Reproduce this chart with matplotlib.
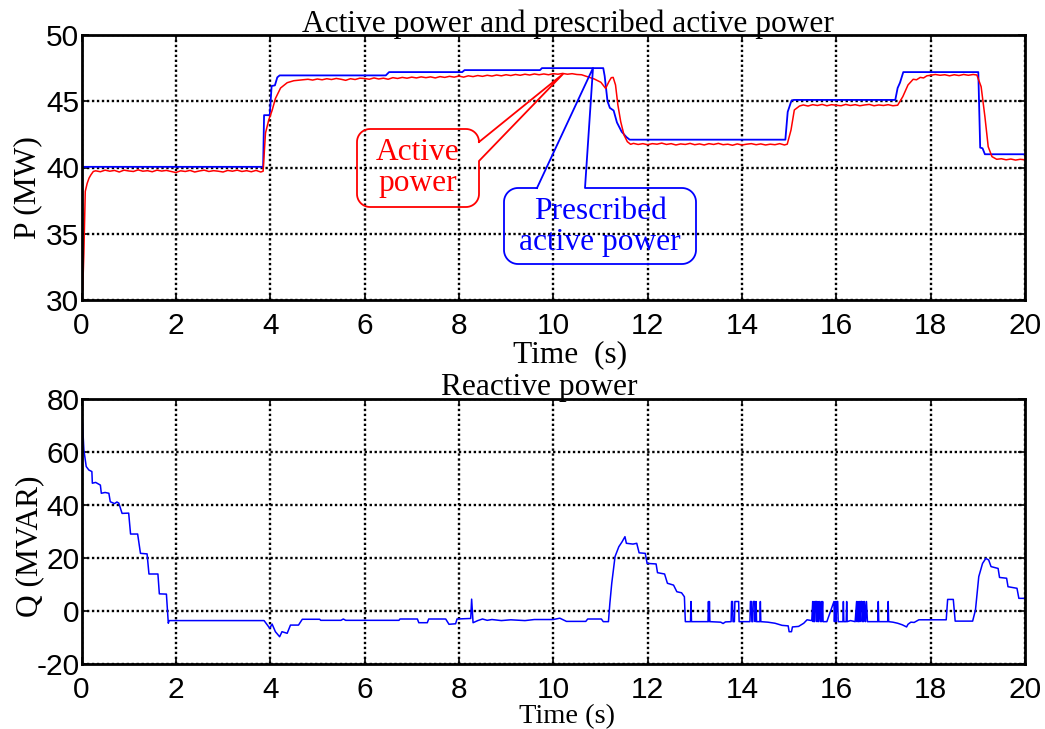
import numpy as np
import matplotlib
matplotlib.use("Agg")
import matplotlib.pyplot as plt

plt.rcParams["axes.unicode_minus"] = False

# ---------------- data ----------------
t_ref = [0, 3.85, 3.87, 3.99, 4.03, 4.10, 4.15, 4.20, 6.45, 6.52, 8.07, 8.12, 9.72, 9.76,
         11.06, 11.09, 11.15, 11.20, 11.28, 11.35, 11.45, 11.55, 11.62, 14.92, 14.97,
         15.05, 15.10, 17.25, 17.30, 17.35, 17.42, 19.01, 19.05, 19.10, 19.15, 20.0]
p_ref = [40.05, 40.05, 43.95, 43.95, 46.15, 46.2, 46.8, 46.95, 46.95, 47.2, 47.2, 47.35,
         47.35, 47.5, 47.5, 46.9, 45.0, 44.5, 44.3, 43.4, 42.7, 42.3, 42.1, 42.1, 44.2,
         45.05, 45.1, 45.1, 46.0, 46.4, 47.2, 47.2, 41.5, 41.45, 41.0, 41.0]

t_act = [0.00, 0.01, 0.025, 0.05, 0.08, 0.12, 0.16, 0.20, 0.25, 0.30, 0.40, 0.50, 0.60,
         0.70, 0.80, 0.90, 1.00, 1.10, 1.20, 1.30, 1.40, 1.50, 1.60, 1.70, 1.80, 1.90,
         2.00, 2.10, 2.20, 2.30, 2.40, 2.50, 2.60, 2.70, 2.80, 2.90, 3.00, 3.10, 3.20,
         3.30, 3.40, 3.50, 3.60, 3.70, 3.80, 3.85, 3.90, 3.97, 4.04, 4.11, 4.22, 4.36,
         4.50, 4.64, 4.80, 4.90, 5.00, 5.10, 5.20, 5.30, 5.40, 5.50, 5.60, 5.70, 5.80,
         5.90, 6.00, 6.10, 6.20, 6.30, 6.40, 6.50, 6.60, 6.70, 6.80, 6.90, 7.00, 7.10,
         7.20, 7.30, 7.40, 7.50, 7.60, 7.70, 7.80, 7.90, 8.00, 8.10, 8.20, 8.30, 8.40,
         8.50, 8.60, 8.70, 8.80, 8.90, 9.00, 9.10, 9.20, 9.30, 9.40, 9.50, 9.60, 9.70,
         9.80, 9.90, 10.00, 10.10, 10.20, 10.30, 10.40, 10.50, 10.60, 10.72, 10.87,
         11.01, 11.11, 11.18, 11.23, 11.27, 11.32, 11.37, 11.43, 11.50, 11.57, 11.64,
         11.70, 11.80, 11.90, 12.00, 12.10, 12.20, 12.30, 12.40, 12.50, 12.60, 12.70,
         12.80, 12.90, 13.00, 13.10, 13.20, 13.30, 13.40, 13.50, 13.60, 13.70, 13.80,
         13.90, 14.00, 14.10, 14.20, 14.30, 14.40, 14.50, 14.60, 14.70, 14.80, 14.90,
         14.96, 15.04, 15.11, 15.22, 15.30, 15.40, 15.50, 15.60, 15.70, 15.80, 15.90,
         16.00, 16.10, 16.20, 16.30, 16.40, 16.50, 16.60, 16.70, 16.80, 16.90, 17.00,
         17.10, 17.20, 17.30, 17.41, 17.52, 17.63, 17.70, 17.78, 17.85, 17.92, 18.00,
         18.10, 18.20, 18.30, 18.40, 18.50, 18.60, 18.70, 18.80, 18.90, 18.98, 19.07,
         19.15, 19.22, 19.30, 19.40, 19.50, 19.60, 19.70, 19.80, 19.90, 20.00]
p_act = [31.0, 35.5, 30.7, 33.5, 38.2, 38.8, 39.2, 39.45, 39.7, 39.75, 39.68, 39.80, 39.72,
         39.78, 39.66, 39.80, 39.74, 39.70, 39.82, 39.72, 39.76, 39.68, 39.80, 39.73, 39.78,
         39.70, 39.62, 39.75, 39.70, 39.78, 39.66, 39.74, 39.80, 39.70, 39.76, 39.72, 39.66,
         39.78, 39.72, 39.80, 39.70, 39.76, 39.68, 39.78, 39.66, 39.72, 42.6, 43.6, 44.3,
         45.2, 46.0, 46.4, 46.55, 46.6, 46.66, 46.60, 46.68, 46.62, 46.70, 46.64, 46.72,
         46.66, 46.58, 46.70, 46.64, 46.74, 46.72, 46.66, 46.76, 46.68, 46.74, 46.66, 46.78,
         46.72, 46.80, 46.74, 46.82, 46.76, 46.84, 46.78, 46.84, 46.76, 46.86, 46.80, 46.88,
         46.82, 46.90, 46.82, 46.92, 46.86, 46.94, 46.88, 46.96, 46.90, 46.98, 46.92, 47.00,
         46.94, 47.02, 46.96, 47.04, 46.98, 47.06, 47.00, 47.06, 47.00, 47.08, 47.04, 47.10,
         47.04, 47.08, 47.02, 47.00, 46.86, 46.68, 46.43, 45.97, 46.48, 46.78, 46.80, 46.23,
         44.72, 43.46, 42.45, 41.95, 41.75, 41.82, 41.74, 41.80, 41.72, 41.80, 41.76, 41.84,
         41.74, 41.80, 41.70, 41.78, 41.74, 41.82, 41.72, 41.78, 41.70, 41.80, 41.74, 41.82,
         41.72, 41.76, 41.68, 41.78, 41.70, 41.76, 41.80, 41.72, 41.78, 41.70, 41.76, 41.72,
         41.80, 41.70, 41.76, 42.83, 44.34, 44.64, 44.72, 44.64, 44.74, 44.68, 44.76, 44.66,
         44.74, 44.70, 44.66, 44.76, 44.68, 44.74, 44.66, 44.72, 44.76, 44.66, 44.72, 44.68,
         44.74, 44.66, 44.70, 45.35, 46.23, 46.66, 46.62, 46.80, 46.76, 46.92, 46.96, 47.02,
         46.96, 47.00, 46.92, 47.00, 46.94, 47.02, 46.96, 47.02, 46.98, 46.10, 43.84, 41.57,
         40.82, 40.62, 40.66, 40.58, 40.64, 40.56, 40.62, 40.58]

t_q = [0.00, 0.02, 0.05, 0.10, 0.155, 0.22, 0.23, 0.30, 0.40, 0.42, 0.50, 0.58, 0.61, 0.70,
       0.75, 0.79, 0.86, 1.00, 1.04, 1.19, 1.25, 1.39, 1.43, 1.62, 1.65, 1.80, 1.84, 1.86,
       3.87, 3.94, 3.99, 4.04, 4.11, 4.20, 4.25, 4.36, 4.43, 4.60, 4.68, 5.05, 5.07, 5.50,
       5.55, 5.60, 6.73, 6.75, 7.12, 7.15, 7.33, 7.36, 7.72, 7.79, 7.93, 7.96, 8.25, 8.27,
       8.30, 8.40, 8.50, 8.60, 8.70, 8.90, 9.10, 9.40, 9.60, 10.00, 10.14, 10.28, 10.69,
       10.73, 11.02, 11.06, 11.17, 11.20, 11.24, 11.31, 11.39, 11.46, 11.52, 11.55, 11.69,
       11.77, 11.82, 11.95, 11.99, 12.18, 12.21, 12.36, 12.42, 12.55, 12.62, 12.72, 12.78,
       12.80, 12.91, 12.92, 12.93, 13.28, 13.29, 13.30, 13.31, 13.32, 13.55, 13.60, 13.65,
       13.77, 13.78, 13.80, 13.81, 13.84, 13.85, 13.93, 13.94, 14.17, 14.18, 14.20, 14.21,
       14.23, 14.24, 14.27, 14.28, 14.30, 14.31, 14.38, 14.39, 14.40, 14.55, 14.70, 14.85,
       14.98, 15.00, 15.05, 15.07, 15.20, 15.31, 15.38, 15.48, 15.50, 15.51, 15.53, 15.54,
       15.56, 15.58, 15.59, 15.61, 15.62, 15.64, 15.66, 15.68, 15.69, 15.71, 15.72, 15.80,
       15.95, 15.96, 15.98, 15.99, 16.01, 16.03, 16.04, 16.14, 16.15, 16.16, 16.21, 16.22,
       16.23, 16.30, 16.40, 16.43, 16.44, 16.46, 16.47, 16.49, 16.50, 16.52, 16.54, 16.55,
       16.57, 16.58, 16.60, 16.62, 16.64, 16.66, 16.88, 16.89, 16.90, 17.09, 17.10, 17.11,
       17.20, 17.30, 17.40, 17.49, 17.52, 17.58, 17.65, 17.75, 18.33, 18.36, 18.48, 18.52,
       18.89, 18.95, 19.02, 19.10, 19.17, 19.23, 19.28, 19.43, 19.46, 19.61, 19.64, 19.83,
       19.87, 20.00]
q_val = [72.0, 71.6, 60.9, 54.6, 53.3, 52.7, 48.3, 48.6, 47.6, 44.5, 44.8, 44.5, 41.3, 40.6,
         41.2, 40.8, 36.9, 37.0, 29.1, 29.1, 21.8, 21.6, 14.0, 14.0, 6.5, 6.4, -4.6, -3.6,
         -3.6, -5.3, -6.5, -4.9, -7.8, -9.7, -7.8, -8.4, -5.3, -5.3, -3.1, -3.1, -3.5, -3.5,
         -3.0, -3.5, -3.5, -3.0, -3.0, -4.4, -4.4, -3.0, -3.0, -5.0, -4.8, -3.0, -2.8, 4.5,
         -4.4, -3.6, -3.0, -3.5, -3.2, -3.6, -3.3, -3.6, -3.2, -3.2, -2.7, -3.9, -3.9,
         -3.0, -3.0, -4.0, -4.0, 2.9, 10.5, 20.6, 24.3, 26.2, 28.1, 25.6, 25.3,
         25.6, 22.0, 21.8, 18.0, 17.8, 14.5, 14.0, 10.5, 9.8, 7.3, 6.9, 5.4,
         -4.0, -4.0, 3.6, -4.0, -4.0, 3.6, -4.0, 3.6, -4.0, -4.2, -4.7, -4.1,
         -4.0, 3.6, 3.6, -4.0, -4.0, 3.6, 3.6, -4.0, -4.0, 3.6, 3.6, -4.0,
         -4.0, 3.6, 3.6, -4.0, 3.6, -4.0, -4.0, 3.6, -4.0, -4.2, -4.6, -5.4,
         -5.6, -7.8, -7.8, -6.0, -5.8, -4.6, -3.3, -3.6, 3.6, -4.0, 3.6, -4.0,
         3.6, 3.6, -4.0, 3.6, -4.0, 3.6, -4.0, 3.6, -4.0, 3.6, -4.0, -4.0,
         3.6, -4.0, 3.6, -4.0, 3.6, 3.6, -4.0, -4.0, 3.6, -4.0, -4.0, 3.6,
         -4.0, -3.6, -4.0, 3.6, -4.0, 3.6, -4.0, 3.6, -4.0, 3.6, 3.6, -4.0,
         3.6, -4.0, 3.6, -4.0, 3.6, -4.0, -4.0, 3.6, -4.0, -4.0, 3.6, -4.0,
         -4.2, -4.6, -5.2, -6.0, -5.0, -4.2, -4.3, -3.3, -3.3, 4.4, 4.4, -3.8,
         -3.8, 0.4, 13.0, 18.0, 19.9, 19.3, 16.8, 16.1, 12.7, 12.4, 9.2, 8.6,
         4.8, 4.8]

x_ticks = [0, 2, 4, 6, 8, 10, 12, 14, 16, 18, 20]
p_ticks = [30, 35, 40, 45, 50]
q_ticks = [-20, 0, 20, 40, 60, 80]

# ---------------- figure ----------------
W, H = 1045, 729
fig = plt.figure(figsize=(W / 100, H / 100), dpi=100)
serif = ["Liberation Serif", "DejaVu Serif"]
sans = ["Liberation Sans", "DejaVu Sans"]
FS = 22.6
TFS = 21.5

L, R = 81.5, 1025.0
ax1 = fig.add_axes([L / W, 1 - 300 / H, (R - L) / W, 265 / H])
ax2 = fig.add_axes([L / W, 1 - 664 / H, (R - L) / W, 264.7 / H])

for ax, yt in ((ax1, p_ticks), (ax2, q_ticks)):
    ax.set_xlim(0, 20)
    ax.set_ylim(yt[0], yt[-1])
    ax.set_xticks(x_ticks)
    ax.set_yticks(yt)
    ax.grid(True, color="black", linestyle=(0, (1, 1.1)), linewidth=1.7)
    ax.tick_params(direction="in", length=5, width=1.2, top=True, right=True,
                   labelsize=TFS)
    ax.tick_params(axis="x", pad=9)
    ax.tick_params(axis="y", pad=1.5)
    for lab in ax.get_xticklabels() + ax.get_yticklabels():
        lab.set_fontfamily(sans)
    for s in ax.spines.values():
        s.set_linewidth(2.0)
        s.set_zorder(5)

ax1.plot(t_ref, p_ref, color="#0000ff", lw=1.3, zorder=3)
ax1.plot(t_act, p_act, color="#ff0000", lw=1.1, zorder=4)
ax2.plot(t_q, q_val, color="#0000ff", lw=1.1, zorder=3)


def ftext(x, y, s, **kw):
    kw.setdefault("fontsize", FS)
    fig.text(x / W, 1 - y / H, s, family=serif, **kw)


ftext(568, 32, "Active power and prescribed active power", ha="center", va="baseline")
ftext(539, 395, "Reactive power", ha="center", va="baseline")
ftext(570, 362, "Time  (s)", ha="center", va="baseline")
ftext(567, 723, "Time (s)", ha="center", va="baseline", fontsize=20.5)
ftext(35, 187.5, "P (MW)", ha="center", va="baseline", rotation=90, rotation_mode="anchor")
ftext(37, 546.7, "Q (MVAR)", ha="center", va="baseline", rotation=90, rotation_mode="anchor")


# ---------------- callouts (pixel geometry) ----------------
def arc(cx, cy, r, a0, a1, n=14):
    a = np.radians(np.linspace(a0, a1, n))
    return list(zip(cx + r * np.cos(a), cy + r * np.sin(a)))


def to_fig(pts):
    pts = np.array(pts, dtype=float)
    return pts[:, 0] / W, 1 - pts[:, 1] / H


def callout_right(x0, x1, ytop, ybot, ya, yb, apex, r, color):
    pts = [(x1, ya), apex, (x1, yb), (x1, ybot - r)]
    pts += arc(x1 - r, ybot - r, r, 0, 90)
    pts += [(x0 + r, ybot)]
    pts += arc(x0 + r, ybot - r, r, 90, 180)
    pts += [(x0, ytop + r)]
    pts += arc(x0 + r, ytop + r, r, 180, 270)
    pts += [(x1 - r, ytop)]
    pts += arc(x1 - r, ytop + r, r, 270, 360)
    pts += [(x1, ya)]
    fx, fy = to_fig(pts)
    fig.add_artist(plt.Line2D(fx, fy, color=color, lw=1.3, transform=fig.transFigure))


def callout_top(x0, x1, ytop, ybot, xa, xb, apex, r, color):
    pts = [(xa, ytop), apex, (xb, ytop), (x1 - r, ytop)]
    pts += arc(x1 - r, ytop + r, r, 270, 360)
    pts += [(x1, ybot - r)]
    pts += arc(x1 - r, ybot - r, r, 0, 90)
    pts += [(x0 + r, ybot)]
    pts += arc(x0 + r, ybot - r, r, 90, 180)
    pts += [(x0, ytop + r)]
    pts += arc(x0 + r, ytop + r, r, 180, 270)
    pts += [(xa, ytop)]
    fx, fy = to_fig(pts)
    fig.add_artist(plt.Line2D(fx, fy, color=color, lw=1.3, transform=fig.transFigure))


callout_right(357, 479, 129, 207, 142, 161, (563, 74), 13, "#ff0000")
callout_top(504, 696, 188, 264, 537, 585, (593, 68), 14, "#0000ff")
ftext(418, 168, "Active\npower", ha="center", va="center", color="#ff0000",
      linespacing=1.1)
ftext(600, 227, "Prescribed\nactive power", ha="center", va="center", color="#0000ff",
      linespacing=1.1)

fig.savefig("out.png", dpi=100)
